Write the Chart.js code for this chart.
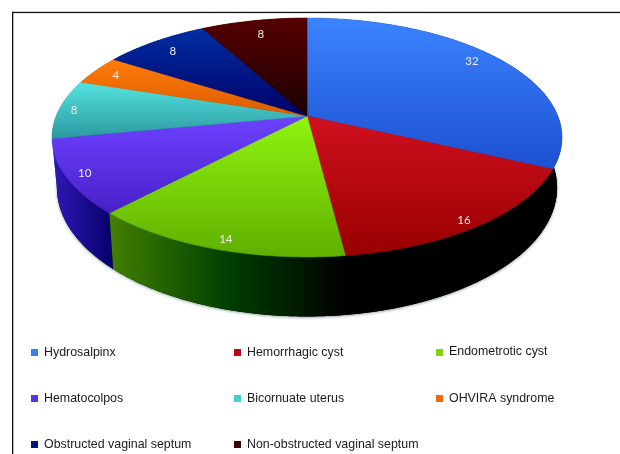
<!DOCTYPE html>
<html>
<head>
<meta charset="utf-8">
<style>
	html, body { margin: 0; padding: 0; background: #fff; }
	canvas { display: block; }
</style>
<script src="https://cdn.jsdelivr.net/npm/chart.js@4/dist/chart.umd.min.js"></script>
</head>
<body>
<canvas id="graph" width="620" height="454"></canvas>
<script>
"use strict";

const categories = [
	"Hydrosalpinx",
	"Hemorrhagic cyst",
	"Endometrotic cyst",
	"Hematocolpos",
	"Bicornuate uterus",
	"OHVIRA syndrome",
	"Obstructed vaginal septum",
	"Non-obstructed vaginal septum",
];
const counts = [32, 16, 14, 10, 8, 4, 8, 8];

const swatchColors = ["#3a7ff0", "#c00414", "#80d408", "#5a30f0", "#40d0d0", "#f06810", "#001480", "#400000"];
const faceTop = ["#3b83ff", "#d01020", "#90f410", "#6c42ff", "#54e4e0", "#ff7c08", "#002ea4", "#560000"];
const faceBottom = ["#1c50d0", "#980000", "#60b000", "#4820c8", "#2c98a0", "#dc5c00", "#000068", "#1c0000"];
const wallStops = [
	["#000000", "#000000"],
	["#000000", "#000000"],
	["#438000", "#004000", "#000000"],
	["#3018b8", "#06006a"],
	["#206068", "#206068"],
	["#803000", "#803000"],
	["#000040", "#000040"],
	["#100000", "#100000"],
];

// label placement along each slice: fraction of the radius, angle nudge in degrees
const labelRadius = [0.89, 0.94, 0.93, 0.93, 0.94, 0.9, 0.87, 0.85];
const labelNudge = [-3.6, 1, -1, 0, 0, 0, 0, 0];

// the disc is seen in perspective, so its rim is projected rather than squashed
const topDisc = { cx: 307, cy: 116, rx: 250.8, ry: 115.6, k: 0.18 };
const baseDisc = { cx: 307, cy: 164.5, rx: 246, ry: 124.6, k: 0.18 };

function project(disc, angle, r = 1) {
	const u = Math.cos(angle) * r;
	const v = Math.sin(angle) * r;
	const w = 1 - disc.k * v;
	return { x: disc.cx + (disc.rx * u) / w, y: disc.cy + (disc.ry * v) / w };
}

function rim(disc, from, to) {
	const steps = Math.max(2, Math.ceil(Math.abs(to - from) / 0.01));
	const points = [];
	for (let i = 0; i <= steps; i++) {
		points.push(project(disc, from + ((to - from) * i) / steps));
	}
	return points;
}

function tracePath(ctx, points) {
	ctx.beginPath();
	points.forEach((p, i) => (i ? ctx.lineTo(p.x, p.y) : ctx.moveTo(p.x, p.y)));
	ctx.closePath();
}

function drawWalls(ctx, arcs) {
	// soft edge under the base
	ctx.save();
	ctx.shadowColor = "rgba(70,100,100,0.6)";
	ctx.shadowBlur = 3;
	ctx.shadowOffsetY = 1;
	ctx.fillStyle = "#000";
	tracePath(ctx, rim(baseDisc, 0, Math.PI * 2));
	ctx.fill();
	ctx.restore();

	for (let i = arcs.length - 1; i >= 0; i--) {
		const { startAngle, endAngle } = arcs[i];
		const points = rim(topDisc, startAngle, endAngle).concat(rim(baseDisc, endAngle, startAngle));
		const xs = points.map((p) => p.x);
		const fill = ctx.createLinearGradient(Math.min(...xs), 0, Math.max(...xs), 0);
		wallStops[i].forEach((c, j) => fill.addColorStop(j / (wallStops[i].length - 1), c));
		tracePath(ctx, points);
		ctx.fillStyle = fill;
		ctx.fill();
	}
}

function drawFaces(ctx, arcs) {
	arcs.forEach(({ startAngle, endAngle }, i) => {
		const points = [{ x: topDisc.cx, y: topDisc.cy }].concat(rim(topDisc, startAngle, endAngle));
		const ys = points.map((p) => p.y);
		const fill = ctx.createLinearGradient(0, Math.min(...ys), 0, Math.max(...ys));
		fill.addColorStop(0, faceTop[i]);
		fill.addColorStop(1, faceBottom[i]);
		tracePath(ctx, points);
		ctx.fillStyle = fill;
		ctx.strokeStyle = fill;
		ctx.lineWidth = 0.6;
		ctx.fill();
		ctx.stroke();
	});
}

function drawValues(ctx, arcs) {
	ctx.font = '11.5px Lato, "Open Sans", sans-serif';
	ctx.fillStyle = "#ecece4";
	ctx.textAlign = "center";
	ctx.textBaseline = "middle";
	arcs.forEach(({ startAngle, endAngle }, i) => {
		const mid = (startAngle + endAngle) / 2 + (labelNudge[i] * Math.PI) / 180;
		const p = project(topDisc, mid, labelRadius[i]);
		ctx.fillText(String(counts[i]), p.x, p.y + 1);
	});
}

function drawKey(ctx) {
	const columns = [31, 234, 436];
	const rows = [353, 399, 445];
	ctx.font = '12.4px "Liberation Sans", Arial, sans-serif';
	ctx.textAlign = "left";
	ctx.textBaseline = "middle";
	categories.forEach((name, i) => {
		const x = columns[i % 3];
		const y = rows[Math.floor(i / 3)];
		ctx.fillStyle = swatchColors[i];
		ctx.fillRect(x, y - 4, 7, 7);
		ctx.fillStyle = "#1a1a1a";
		ctx.fillText(name, x + 13, y - 1 + (i % 3 === 2 && i < 3 ? -1 : 0) + 0.5);
	});
}

const perspectivePie = {
	id: "perspectivePie",
	beforeDraw(chart) {
		const { ctx } = chart;
		ctx.fillStyle = "#111";
		ctx.fillRect(12, 11.8, 608, 1.3);
		ctx.fillRect(12, 11.8, 1.3, 442.2);
	},
	// the arc angles come from the pie controller, only the painting is replaced
	beforeDatasetsDraw(chart) {
		const { ctx } = chart;
		const arcs = chart.getDatasetMeta(0).data;
		drawWalls(ctx, arcs);
		drawFaces(ctx, arcs);
		drawValues(ctx, arcs);
		drawKey(ctx);
		return false;
	},
};

new Chart(document.querySelector("#graph").getContext("2d"), {
	type: "pie",
	data: {
		labels: categories,
		datasets: [{ data: counts, backgroundColor: swatchColors }],
	},
	options: {
		responsive: false,
		animation: false,
		plugins: {
			legend: { display: false },
			tooltip: { enabled: false },
		},
	},
	plugins: [perspectivePie],
});
</script>
</body>
</html>
